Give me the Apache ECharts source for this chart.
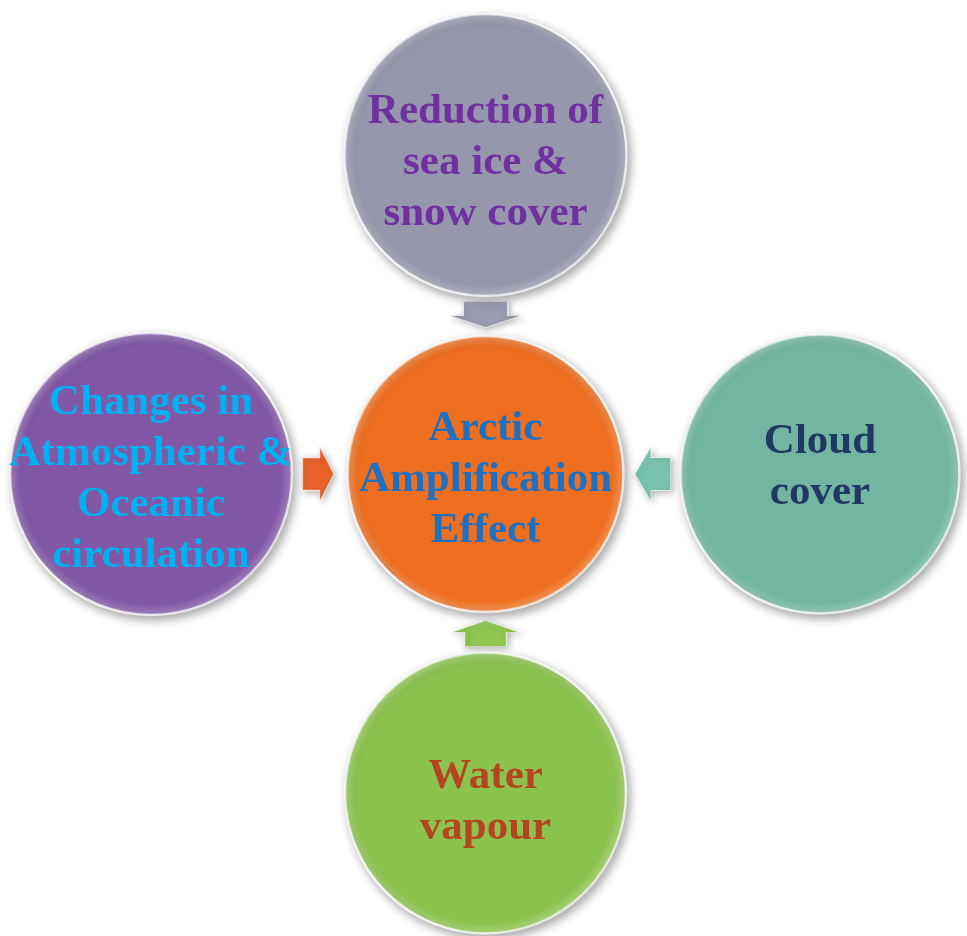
<!DOCTYPE html>
<html>
<head>
<meta charset="utf-8">
<title>Arctic Amplification Effect</title>
<script src="https://cdn.jsdelivr.net/npm/echarts@6/dist/echarts.min.js"></script>
<style>
  html, body { margin: 0; padding: 0; background: #ffffff; }
  #chart { width: 967px; height: 936px; }
</style>
</head>
<body>
<div id="chart"></div>
<script>
// Diagram content: five factors laid out on a 3x3 grid (column, row)
const nodeLabels = [
  'Reduction of\nsea ice &\nsnow cover',
  'Changes in\nAtmospheric &\nOceanic\ncirculation',
  'Arctic\nAmplification\nEffect',
  'Cloud\ncover',
  'Water\nvapour'
];
const nodeCol = [0, -1, 0, 1, 0];
const nodeRow = [1, 0, 0, 0, -1];

// Arrows pointing from each outer factor to the centre
const arrowCol = [0, -0.5, 0.5, 0];
const arrowRow = [0.5, 0, 0, -0.5];
const arrowDir = ['down', 'right', 'left', 'up'];

// Styling per node
const nodeFill = ['#9697ac', '#8157a6', '#ee6f20', '#72b6a2', '#8cc34f'];
const nodeText = ['#7030a0', '#00b0f0', '#1f70c1', '#1f3864', '#b5451f'];
const nodeSize = [282, 282, 276, 279, 281];
const nodeTextShift = [8, 5, 6, -7, 9];

const arrowFill = ['#9a9bb1', '#e8622a', '#79c3ae', '#8fc651'];
const arrowSize = [[72, 26], [31, 55], [36, 55], [68, 26]];
const arrowPaths = {
  right: 'path://M0,20 L55,20 L55,0 L100,50 L55,100 L55,80 L0,80 Z',
  left: 'path://M100,20 L45,20 L45,0 L0,50 L45,100 L45,80 L100,80 Z',
  down: 'path://M19,0 L81,0 L81,55 L100,55 L50,100 L0,55 L19,55 Z',
  up: 'path://M19,100 L81,100 L81,45 L100,45 L50,0 L0,45 L19,45 Z'
};

function lighten(hex, amt) {
  const n = parseInt(hex.slice(1), 16);
  const r = (n >> 16) & 255, g = (n >> 8) & 255, b = n & 255;
  const f = c => Math.round(c + (255 - c) * amt);
  return 'rgb(' + f(r) + ',' + f(g) + ',' + f(b) + ')';
}

const nodeData = nodeLabels.map((text, i) => ({
  name: text,
  value: [nodeCol[i], nodeRow[i]],
  symbolSize: nodeSize[i],
  itemStyle: {
    opacity: 1,
    color: {
      type: 'radial', x: 0.5, y: 0.5, r: 0.5,
      colorStops: [
        { offset: 0, color: nodeFill[i] },
        { offset: 0.92, color: nodeFill[i] },
        { offset: 0.975, color: lighten(nodeFill[i], 0.2) },
        { offset: 1, color: lighten(nodeFill[i], 0.45) }
      ]
    },
    borderWidth: 2.5,
    borderColor: {
      type: 'linear', x: 0, y: 0, x2: 1, y2: 1,
      colorStops: [
        { offset: 0, color: 'rgba(255,255,255,0.35)' },
        { offset: 0.5, color: 'rgba(255,255,255,0.9)' },
        { offset: 1, color: 'rgba(255,255,255,0.55)' }
      ]
    },
    shadowBlur: 10,
    shadowOffsetX: 3,
    shadowOffsetY: 4,
    shadowColor: 'rgba(0,0,0,0.35)'
  },
  label: {
    color: nodeText[i],
    offset: [0, nodeTextShift[i]]
  }
}));

const arrowData = arrowDir.map((dir, i) => ({
  value: [arrowCol[i], arrowRow[i]],
  symbol: arrowPaths[dir],
  symbolSize: arrowSize[i],
  itemStyle: {
    opacity: 1,
    color: {
      type: 'linear', x: 0, y: 0, x2: 0, y2: 1,
      colorStops: [
        { offset: 0, color: lighten(arrowFill[i], 0.2) },
        { offset: 0.25, color: arrowFill[i] },
        { offset: 1, color: arrowFill[i] }
      ]
    },
    borderWidth: 1,
    borderColor: 'rgba(255,255,255,0.7)',
    shadowBlur: 6,
    shadowOffsetX: 2,
    shadowOffsetY: 2,
    shadowColor: 'rgba(0,0,0,0.3)'
  }
}));

const chart = echarts.init(document.getElementById('chart'), null, { renderer: 'canvas' });
chart.setOption({
  backgroundColor: '#ffffff',
  animation: false,
  grid: { left: 151, right: 147, top: 155, bottom: 143 },
  xAxis: { type: 'value', min: -1, max: 1, show: false },
  yAxis: { type: 'value', min: -1, max: 1, show: false },
  series: [
    {
      name: 'arrows',
      type: 'scatter',
      clip: false,
      silent: true,
      data: arrowData
    },
    {
      name: 'factors',
      type: 'scatter',
      clip: false,
      silent: true,
      symbol: 'circle',
      itemStyle: { opacity: 1 },
      label: {
        show: true,
        position: 'inside',
        formatter: p => p.name,
        fontFamily: '"Liberation Serif", "Times New Roman", serif',
        fontWeight: 'bold',
        fontSize: 43,
        lineHeight: 51,
        align: 'center',
        overflow: 'none'
      },
      data: nodeData
    }
  ]
});
</script>
</body>
</html>
